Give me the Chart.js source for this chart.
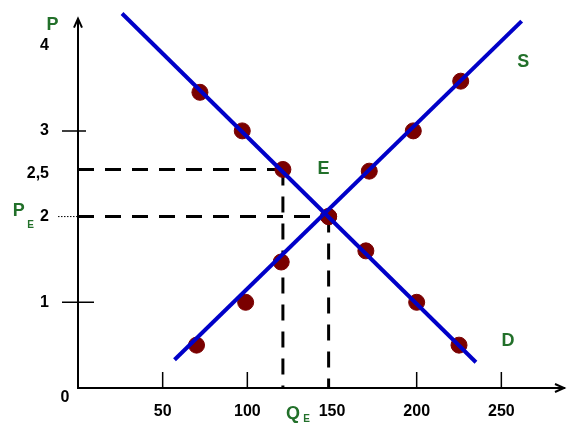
<!DOCTYPE html>
<html>
<head>
<meta charset="utf-8">
<script src="https://cdn.jsdelivr.net/npm/chart.js@4"></script>
<style>
  html, body { margin: 0; background: #fff; }
</style>
</head>
<body>
<canvas id="chart" width="573" height="428"></canvas>
<script>
const xTicks = [50, 100, 150, 200, 250];
const yTicks = [1, 2, 2.5, 3, 4];
const demandX = [72, 97, 121, 148, 170, 200, 225];
const demandY = [3.45, 3, 2.55, 2, 1.6, 1, 0.5];
const supplyX = [70, 99, 120, 148, 172, 198, 226];
const supplyY = [0.5, 1, 1.47, 2, 2.53, 3, 3.58];
const demandLineX = [26, 235];
const demandLineY = [4.37, 0.3];
const supplyLineX = [57, 262];
const supplyLineY = [0.33, 4.28];
const qE = 148, pE = 2;
const q1 = 121, p1 = 2.55;
const yAxisTop = 4.31;

const GREEN = '#22702a';
const BLUE = '#0000c8';
const RED = '#7a0000';
const FONT = '"Liberation Sans", Arial, sans-serif';

const pts = (xs, ys) => xs.map((x, i) => ({ x, y: ys[i] }));

const dashed = (data) => ({
  type: 'line', data, borderColor: '#000', borderWidth: 3, borderDash: [16, 11],
  pointRadius: 0, fill: false, order: 3
});

const decor = {
  id: 'decor',
  afterDraw(chart) {
    const ctx = chart.ctx;
    const x = chart.scales.x, y = chart.scales.y;
    const x0 = x.getPixelForValue(0), y0 = y.getPixelForValue(0);
    const yt = y.getPixelForValue(yAxisTop);
    ctx.save();
    ctx.strokeStyle = '#000';
    ctx.fillStyle = '#000';
    ctx.lineWidth = 2;
    // axis arrows
    ctx.beginPath();
    ctx.moveTo(x0, y0); ctx.lineTo(x0, yt);
    ctx.moveTo(x0 - 4, yt + 9); ctx.lineTo(x0, yt); ctx.lineTo(x0 + 4, yt + 9);
    ctx.moveTo(chart.chartArea.right - 9, y0 - 4); ctx.lineTo(chart.chartArea.right, y0); ctx.lineTo(chart.chartArea.right - 9, y0 + 4);
    ctx.stroke();
    // tick marks
    ctx.lineWidth = 1.5;
    ctx.beginPath();
    [1, 3].forEach(v => {
      const py = y.getPixelForValue(v);
      ctx.moveTo(x0 - 16, py); ctx.lineTo(x0 + (v === 1 ? 16 : 8), py);
    });
    [50, 100, 200, 250].forEach(v => {
      const px = x.getPixelForValue(v);
      ctx.moveTo(px, y0); ctx.lineTo(px, y0 - 16);
    });
    ctx.stroke();
    ctx.setLineDash([1.5, 1.5]);
    ctx.lineWidth = 1;
    ctx.beginPath();
    const py2 = y.getPixelForValue(pE);
    ctx.moveTo(x0 - 20, py2); ctx.lineTo(x0, py2);
    ctx.stroke();
    ctx.setLineDash([]);
    // origin label
    ctx.font = 'bold 16px ' + FONT;
    ctx.textAlign = 'center';
    ctx.textBaseline = 'middle';
    ctx.fillText('0', x0 - 13, y0 + 10);
    // green labels
    ctx.fillStyle = GREEN;
    ctx.font = 'bold 18px ' + FONT;
    const lbl = (t, vx, vy) => ctx.fillText(t, x.getPixelForValue(vx), y.getPixelForValue(vy));
    lbl('P', -15, 4.23);
    lbl('S', 263, 3.8);
    lbl('D', 254, 0.55);
    lbl('E', 145, 2.55);
    lbl('P', -35, pE + 0.06);
    lbl('Q', 127, -0.3);
    ctx.font = 'bold 10px ' + FONT;
    lbl('E', -28, pE - 0.1);
    lbl('E', 135, -0.37);
    ctx.restore();
  }
};

new Chart(document.getElementById('chart'), {
  type: 'scatter',
  data: {
    datasets: [
      { type: 'line', data: pts(demandLineX, demandLineY), borderColor: BLUE, borderWidth: 4, pointRadius: 0, fill: false, order: 0, clip: false },
      { type: 'line', data: pts(supplyLineX, supplyLineY), borderColor: BLUE, borderWidth: 4, pointRadius: 0, fill: false, order: 0, clip: false },
      { data: pts(demandX, demandY), backgroundColor: RED, borderColor: RED, pointRadius: 8, order: 1 },
      { data: pts(supplyX, supplyY), backgroundColor: RED, borderColor: RED, pointRadius: 8, order: 1 },
      dashed([{ x: 0, y: p1 }, { x: q1, y: p1 }]),
      dashed([{ x: q1, y: p1 }, { x: q1, y: 0 }]),
      dashed([{ x: 0, y: pE }, { x: qE, y: pE }]),
      dashed([{ x: qE, y: pE }, { x: qE, y: 0 }])
    ]
  },
  options: {
    responsive: false,
    animation: false,
    layout: { padding: { top: 5, right: 3, left: 0, bottom: 0 } },
    plugins: { legend: { display: false }, tooltip: { enabled: false } },
    scales: {
      x: {
        type: 'linear', min: 0, max: 287,
        grid: { display: false },
        border: { display: true, color: '#000', width: 2 },
        afterBuildTicks: s => { s.ticks = xTicks.map(v => ({ value: v })); },
        afterFit: s => { s.height = 40; },
        ticks: { color: '#000', padding: 6, maxRotation: 0, font: { family: FONT, size: 16, weight: 'bold' } }
      },
      y: {
        type: 'linear', min: 0, max: 4.17,
        grid: { display: false },
        border: { display: false },
        afterBuildTicks: s => { s.ticks = yTicks.map(v => ({ value: v })); },
        afterFit: s => { s.width = 78; },
        ticks: {
          color: '#000', padding: 21, font: { family: FONT, size: 16, weight: 'bold' },
          callback: v => v === 2.5 ? '2,5' : String(v)
        }
      }
    }
  },
  plugins: [decor]
});
</script>
</body>
</html>
